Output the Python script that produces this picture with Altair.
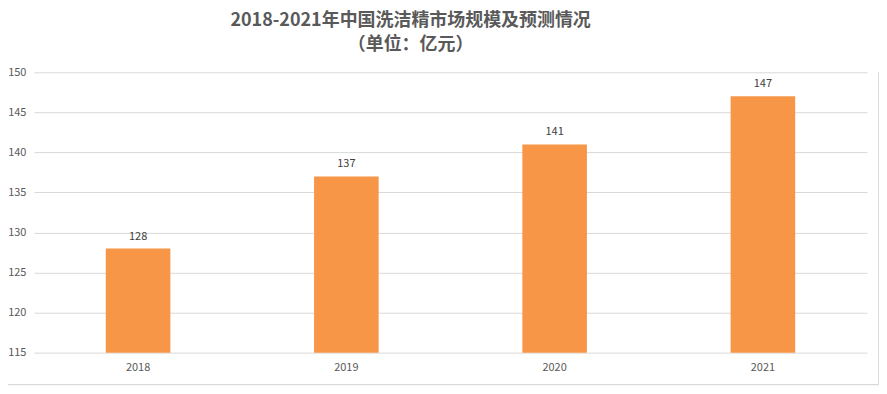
import altair as alt
import pandas as pd

years = ["2018", "2019", "2020", "2021"]
values = [128, 137, 141, 147]
y_ticks = [115, 120, 125, 130, 135, 140, 145, 150]
base_value = 115
title_lines = ["2018-2021年中国洗洁精市场规模及预测情况", "（单位：亿元）"]

df = pd.DataFrame({"year": years, "value": values, "base": [base_value] * len(years)})

FONT = "Noto Sans CJK SC"

x = alt.X("year:N", title=None, sort=years,
          scale=alt.Scale(paddingInner=0.69, paddingOuter=0.345),
          axis=alt.Axis(labelAngle=0, ticks=False, domain=False, labelPadding=9,
                        labelFontSize=11, labelColor="#595959", labelFont=FONT))
y = alt.Y("value:Q", title=None,
          scale=alt.Scale(domain=[y_ticks[0], y_ticks[-1]], nice=False, zero=False),
          axis=alt.Axis(values=y_ticks, ticks=False, domain=False, labelPadding=8,
                        labelFontSize=11, labelColor="#595959", labelFont=FONT,
                        gridColor="#d9d9d9", gridWidth=1))

bars = alt.Chart(df).mark_bar(color="#F79646").encode(x=x, y=y, y2="base:Q")
labels = alt.Chart(df).mark_text(dy=-12, fontSize=11, color="#404040", font=FONT).encode(
    x=x, y=y, text="value:Q")

border_bottom = alt.Chart(df).mark_rule(color="#d9d9d9", clip=False).encode(
    x=alt.value(-34), x2=alt.value(847), y=alt.value(313))
border_right = alt.Chart(df).mark_rule(color="#d9d9d9", clip=False).encode(
    x=alt.value(847), y=alt.value(0), y2=alt.value(313))

chart = alt.layer(bars, labels, border_bottom, border_right).properties(
    width=835, height=281,
    title=alt.TitleParams(text=title_lines, anchor="middle", frame="group", font=FONT,
                          fontSize=18, fontWeight="bold", color="#595959", dx=-40,
                          offset=12, lineHeight=24),
    autosize=alt.AutoSizeParams(type="none"),
    padding={"left": 26, "top": 64, "right": 12, "bottom": 33},
).configure(background="white").configure_view(stroke=None)

chart.save("out.html", embed_options={"renderer": "svg", "actions": False})
